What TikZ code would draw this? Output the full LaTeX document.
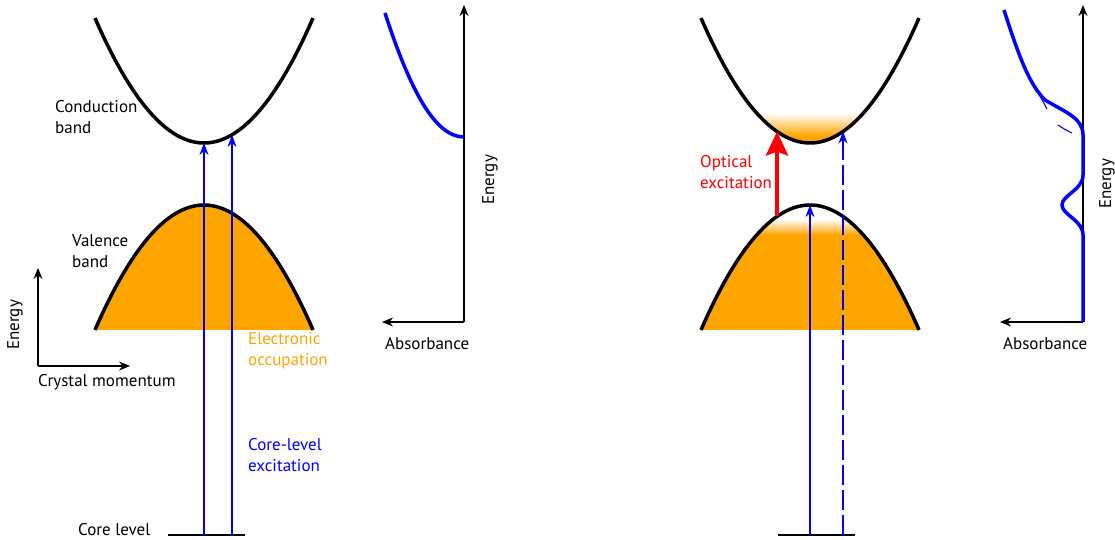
\documentclass[tikz,border=0pt]{standalone}
\usepackage{fontspec}
\setmainfont{PT Sans}
\usetikzlibrary{arrows.meta}
\definecolor{occ}{RGB}{255,165,0}
\begin{document}
\begin{tikzpicture}[x=1pt,y=-1pt,
  band/.style={line width=3.5pt, black},
  axisarrow/.style={line width=1.3pt, -{Stealth[length=11pt,width=9pt]}},
  exc/.style={blue, line width=1.3pt, -{Stealth[length=12pt,width=9pt]}},
  absb/.style={blue, line width=3.5pt},
  lbl/.style={font=\fontsize{17}{21}\selectfont, align=left, anchor=west, inner sep=0pt},
  lvl/.style={line width=1.3pt, black}]
\useasboundingbox (0,0) rectangle (1115,539);

% ---------- left band diagram ----------
\fill[occ] plot[domain=-109:109,samples=60] ({204+\x},{205+0.01052*\x*\x}) -- cycle;
\draw[band] plot[domain=-109:109,samples=60] ({204+\x},{143-0.01052*\x*\x});
\draw[band] plot[domain=-109:109,samples=60] ({204+\x},{205+0.01052*\x*\x});

\coordinate (coreL1) at (168,535);
\coordinate (coreL2) at (245,535);
\draw[lvl] (coreL1) -- (coreL2);
\coordinate (exA0) at (204,535);
\coordinate (exA1) at (204,143);
\coordinate (exB0) at (232,535);
\coordinate (exB1) at (232,135);
\draw[exc] (exA0) -- (exA1);
\draw[exc] (exB0) -- (exB1);

\node[lbl] (cb) at (55,117.5) {Conduction\\band};
\node[lbl] (vb) at (72,251.5) {Valence\\band};
\node[lbl, text=occ] (eo) at (248,350.5) {Electronic\\occupation};
\node[lbl, text=blue] (cle) at (248,455.5) {Core-level\\excitation};
\node[lbl] (cl) at (78,530) {Core level};

\coordinate (o) at (38,366);
\coordinate (oy) at (38,268);
\coordinate (ox) at (130,366);
\draw[axisarrow] (o) -- (oy);
\draw[axisarrow] (o) -- (ox);
\node[lbl, anchor=center, rotate=90] (en1) at (15,325) {Energy};
\node[lbl] (cm) at (38,382) {Crystal momentum};

% ---------- left absorbance ----------
\coordinate (a1o) at (464,322);
\coordinate (a1y) at (464,5);
\coordinate (a1x) at (382,322);
\draw[axisarrow] (a1o) -- (a1y);
\draw[axisarrow] (a1o) -- (a1x);
\draw[absb] (385,13) .. controls (410,90) and (435,137) .. (464,137);
\node[lbl] (ab1) at (385,344) {Absorbance};
\node[lbl, anchor=center, rotate=90] (en2) at (490,180) {Energy};

% ---------- right band diagram ----------
\begin{scope}
\clip plot[domain=-109:109,samples=60] ({810+\x},{205+0.01052*\x*\x}) -- cycle;
\shade[top color=white, bottom color=occ] (690,219) rectangle (930,235);
\fill[occ] (690,234.5) rectangle (930,340);
\end{scope}
\begin{scope}
\clip plot[domain=-109:109,samples=60] ({810+\x},{143-0.01052*\x*\x}) -- cycle;
\shade[top color=white, bottom color=occ] (690,113) rectangle (930,136);
\fill[occ] (690,135.5) rectangle (930,150);
\end{scope}
\draw[band] plot[domain=-109:109,samples=60] ({810+\x},{143-0.01052*\x*\x});
\draw[band] plot[domain=-109:109,samples=60] ({810+\x},{205+0.01052*\x*\x});

\coordinate (coreR1) at (778,535);
\coordinate (coreR2) at (855,535);
\draw[lvl] (coreR1) -- (coreR2);
\coordinate (exC0) at (810,535);
\coordinate (exC1) at (810,205);
\coordinate (exD0) at (843,535);
\coordinate (exD1) at (843,131.5);
\draw[exc] (exC0) -- (exC1);
\draw[exc, dash pattern=on 20pt off 5pt] (exD0) -- (exD1);

\coordinate (opt0) at (777,216);
\coordinate (opt1) at (777,131.5);
\draw[red, line width=4.5pt, -{Stealth[length=24pt,width=22pt,inset=4pt]}] (opt0) -- (opt1);
\node[lbl, text=red] (oe) at (700,172.5) {Optical\\excitation};

% ---------- right absorbance ----------
\coordinate (a2o) at (1083,322);
\coordinate (a2y) at (1083,5);
\coordinate (a2x) at (1000,322);
\draw[axisarrow] (a2o) -- (a2y);
\draw[axisarrow] (a2o) -- (a2x);
\draw[blue, line width=1.1pt] (1040,96) .. controls (1043,102) .. (1047,109)
  (1058,125) .. controls (1064,129) .. (1072,133);
\draw[absb] (1004,10) .. controls (1020,60) and (1030,85) .. (1045,100)
  .. controls (1065,112) and (1083,118) .. (1083,135)
  -- (1083,175) .. controls (1083,190) and (1062,195) .. (1062,205)
  .. controls (1062,215) and (1083,220) .. (1083,235) -- (1083,322);
\node[lbl] (ab2) at (1003,344) {Absorbance};
\node[lbl, anchor=center, rotate=90] (en3) at (1107,184) {Energy};
\end{tikzpicture}
\end{document}
